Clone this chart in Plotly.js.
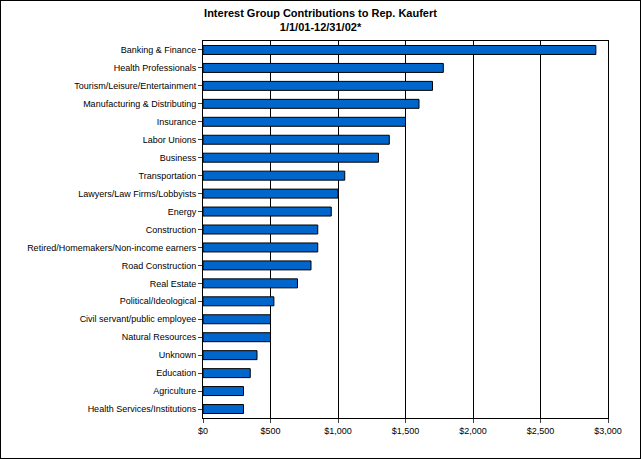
<!DOCTYPE html>
<html><head><script src="https://cdn.plot.ly/plotly-3.0.1.min.js"></script>
<style>body{margin:0}#w{width:639px;height:457px;border:1px solid #000;overflow:hidden}</style></head>
<body><div id="w"><div id="c"></div></div><script>
const groups = ["Banking & Finance","Health Professionals","Tourism/Leisure/Entertainment","Manufacturing & Distributing","Insurance","Labor Unions","Business","Transportation","Lawyers/Law Firms/Lobbyists","Energy","Construction","Retired/Homemakers/Non-income earners","Road Construction","Real Estate","Political/Ideological","Civil servant/public employee","Natural Resources","Unknown","Education","Agriculture","Health Services/Institutions"];
const amounts = [2910,1780,1700,1600,1500,1380,1300,1050,1000,950,850,850,800,700,525,500,500,400,350,300,300];

Plotly.newPlot("c", [{
  type: "bar", orientation: "h",
  y: groups.slice().reverse(), x: amounts.slice().reverse(),
  marker: { color: "#0066CC", line: { color: "#000", width: 1 } },
  width: 0.5
}], {
  width: 639, height: 457,
  margin: { l: 202, r: 32, t: 40, b: 40 },
  paper_bgcolor: "#fff", plot_bgcolor: "#fff",
  font: { family: "Liberation Sans, Arial", size: 9, color: "#000" },
  title: { text: "<b>Interest Group Contributions to Rep. Kaufert<br>1/1/01-12/31/02*</b>", font: { size: 11 }, x: 0.5, y: 0.965, yanchor: "top" },
  xaxis: { range: [0, 3000], dtick: 500, tickprefix: "$", tickformat: ",d", showgrid: true, gridcolor: "#000",
    showline: true, linecolor: "#000", mirror: true, ticks: "outside", ticklen: 4, zeroline: false, fixedrange: true },
  yaxis: { showline: true, linecolor: "#000", mirror: true, ticks: "outside", ticklen: 4, automargin: false, fixedrange: true },
  showlegend: false, bargap: 0.5
}, { staticPlot: true });
</script></body></html>
